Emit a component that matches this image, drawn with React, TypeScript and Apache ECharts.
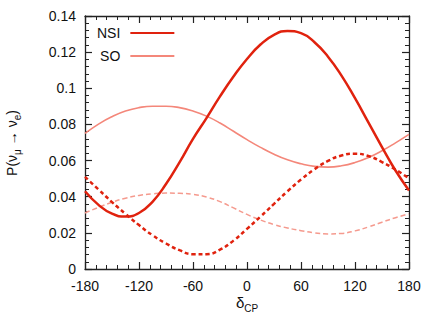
import React, { useEffect, useRef } from "react";
import * as echarts from "echarts";

const deltaCP = [-180, -165, -150, -135, -120, -105, -90, -75, -60, -45, -30, -15, 0, 15, 30, 45, 60, 75, 90, 105, 120, 135, 150, 165, 180];

const nsiSolid = [0.043, 0.0355, 0.0306, 0.029, 0.031, 0.0372, 0.047, 0.059, 0.072, 0.0835, 0.0955, 0.1065, 0.1162, 0.1242, 0.1296, 0.1317, 0.1305, 0.1255, 0.1175, 0.107, 0.0945, 0.081, 0.0675, 0.0545, 0.0435];
const nsiDashed = [0.051, 0.044, 0.037, 0.0305, 0.0243, 0.0187, 0.0141, 0.0104, 0.0082, 0.0082, 0.0107, 0.0157, 0.0222, 0.029, 0.036, 0.043, 0.0495, 0.0552, 0.0598, 0.0628, 0.0638, 0.0625, 0.0592, 0.055, 0.0502];
const soSolid = [0.075, 0.0802, 0.0843, 0.0874, 0.0893, 0.0901, 0.0901, 0.0893, 0.0874, 0.0846, 0.0808, 0.0762, 0.0716, 0.0673, 0.0635, 0.0604, 0.0582, 0.0568, 0.0564, 0.0571, 0.0589, 0.0617, 0.0654, 0.0698, 0.0745];
const soDashed = [0.031, 0.0341, 0.0369, 0.0392, 0.0407, 0.0416, 0.042, 0.0419, 0.0413, 0.0398, 0.0373, 0.0338, 0.0302, 0.0271, 0.0246, 0.0227, 0.0212, 0.0200, 0.0194, 0.0197, 0.0211, 0.0233, 0.0259, 0.0284, 0.0305];

const legendNames = ["NSI", "SO"];

const NSI_COLOR = "#e0220e";
const SO_COLOR = "#f4877a";
const SO_DASH_COLOR = "#f59a8e";
const FONT = "'Liberation Sans', Arial, Helvetica, sans-serif";

const pairs = (ys: number[]) => deltaCP.map((x, i) => [x, ys[i]]);

export default function App() {
  const ref = useRef<HTMLDivElement>(null);
  useEffect(() => {
    document.body.style.margin = "0";
    if (!ref.current) return;
    const chart = echarts.init(ref.current, undefined, { renderer: "svg" });
    const axisLine = { show: true, onZero: false, lineStyle: { color: "#222", width: 1.3 } };
    const axisTick = { show: true, inside: true, length: 7, lineStyle: { color: "#222", width: 1.2 } };
    const minorTick = { show: true, splitNumber: 5, length: 4, lineStyle: { color: "#222", width: 1 } };
    const xBase = {
      type: "value" as const,
      min: -180,
      max: 180,
      interval: 60,
      axisLine,
      axisTick,
      minorTick,
      splitLine: { show: false },
    };
    const yBase = {
      type: "value" as const,
      min: 0,
      max: 0.14,
      interval: 0.02,
      axisLine,
      axisTick,
      minorTick,
      splitLine: { show: false },
    };
    chart.setOption({
      animation: false,
      grid: { left: 85, right: 27, top: 16, bottom: 58, containLabel: false },
      legend: {
        data: legendNames,
        orient: "vertical",
        left: 97,
        top: 26,
        padding: 0,
        align: "right",
        itemWidth: 44,
        itemHeight: 14,
        itemGap: 9,
        itemStyle: { opacity: 0 },
        textStyle: { fontSize: 14, fontFamily: FONT, color: "#111", padding: [0, 5, 0, 0] },
      },
      xAxis: [
        {
          ...xBase,
          position: "bottom",
          axisLabel: { show: true, margin: 10, fontSize: 14, fontFamily: FONT, color: "#111" },
        },
        { ...xBase, position: "top", axisLabel: { show: false } },
      ],
      yAxis: [
        {
          ...yBase,
          position: "left",
          axisLabel: { show: true, margin: 9, fontSize: 14, fontFamily: FONT, color: "#111" },
        },
        { ...yBase, position: "right", axisLabel: { show: false } },
      ],
      series: [
        {
          name: "NSI",
          type: "line",
          data: pairs(nsiSolid),
          smooth: 0.5,
          symbol: "none",
          lineStyle: { color: NSI_COLOR, width: 2.5 },
          itemStyle: { color: NSI_COLOR },
          z: 5,
        },
        {
          name: "NSI (dashed)",
          type: "line",
          data: pairs(nsiDashed),
          smooth: 0.5,
          symbol: "none",
          lineStyle: { color: NSI_COLOR, width: 2.5, type: [4, 3] },
          itemStyle: { color: NSI_COLOR },
          z: 5,
        },
        {
          name: "SO",
          type: "line",
          data: pairs(soSolid),
          smooth: 0.5,
          symbol: "none",
          lineStyle: { color: SO_COLOR, width: 1.6 },
          itemStyle: { color: SO_COLOR },
          z: 3,
        },
        {
          name: "SO (dashed)",
          type: "line",
          data: pairs(soDashed),
          smooth: 0.5,
          symbol: "none",
          lineStyle: { color: SO_DASH_COLOR, width: 1.5, type: [5, 3] },
          itemStyle: { color: SO_DASH_COLOR },
          z: 3,
        },
      ],
      graphic: [
        {
          type: "text",
          x: 247,
          y: 302,
          style: {
            text: "{n|δ}{s|CP}",
            align: "center",
            verticalAlign: "middle",
            fill: "#111",
            rich: {
              n: { fontSize: 15, fontFamily: FONT, lineHeight: 22, verticalAlign: "middle", fill: "#111" },
              s: { fontSize: 10, fontFamily: FONT, lineHeight: 22, verticalAlign: "bottom", fill: "#111" },
            },
          },
        },
        {
          type: "text",
          x: 12,
          y: 143,
          rotation: Math.PI / 2,
          style: {
            text: "{n|P(ν}{s|μ}{n| → ν}{s|e}{n|)}",
            align: "center",
            verticalAlign: "middle",
            fill: "#111",
            rich: {
              n: { fontSize: 14, fontFamily: FONT, lineHeight: 20, verticalAlign: "middle", fill: "#111" },
              s: { fontSize: 10, fontFamily: FONT, lineHeight: 20, verticalAlign: "bottom", fill: "#111" },
            },
          },
        },
      ],
    });
    return () => chart.dispose();
  }, []);
  return <div ref={ref} style={{ width: 436, height: 327 }} />;
}
